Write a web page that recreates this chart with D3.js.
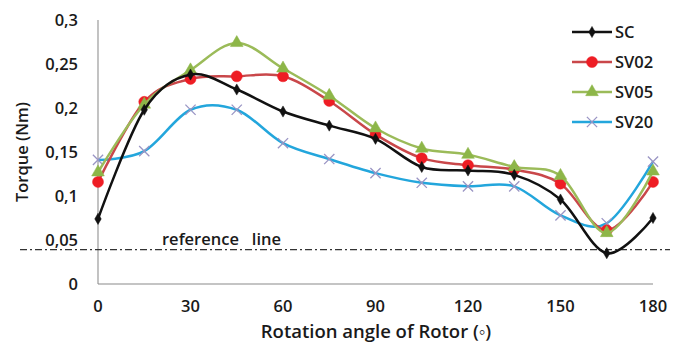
<!DOCTYPE html>
<html>
<head>
<meta charset="utf-8">
<script src="https://cdn.jsdelivr.net/npm/d3@7"></script>
<style>
  body { margin: 0; background: #fff; }
  svg text { font-family: "Open Sans", sans-serif; font-weight: 600; fill: #1a1a1a; }
</style>
</head>
<body>
<div id="chart-area"></div>
<script>
// rotation angles (deg)
let angles = [0, 15, 30, 45, 60, 75, 90, 105, 120, 135, 150, 165, 180];

let scVals   = [0.074, 0.198, 0.238, 0.221, 0.196, 0.180, 0.165, 0.133, 0.129, 0.124, 0.096, 0.035, 0.075];
let sv02Vals = [0.116, 0.207, 0.233, 0.236, 0.236, 0.208, 0.170, 0.143, 0.135, 0.130, 0.114, 0.061, 0.116];
let sv05Vals = [0.127, 0.204, 0.243, 0.274, 0.245, 0.214, 0.177, 0.154, 0.147, 0.133, 0.123, 0.058, 0.128];
let sv20Vals = [0.141, 0.151, 0.198, 0.198, 0.160, 0.142, 0.126, 0.115, 0.111, 0.111, 0.078, 0.069, 0.139];

let seriesNames = ["SC", "SV02", "SV05", "SV20"];
let xTicks = [0, 30, 60, 90, 120, 150, 180];
let yTicks = [0, 0.05, 0.1, 0.15, 0.2, 0.25, 0.3];
let refValue = 0.039;
let refLabel = "reference\u00a0\u00a0\u00a0line";

const width = 682, height = 343;
const svg = d3.select('#chart-area').append('svg').attr('width', width).attr('height', height);

const x = d3.scaleLinear().domain([0, 180]).range([98, 653]);
const y = d3.scaleLinear().domain([0, 0.3]).range([284, 20]);

let styles = {
  "SC":   {line: "#111111", mark: "#111111", symbol: d3.symbolDiamond, size: 36},
  "SV02": {line: "#c9474a", mark: "#ee1d24", symbol: d3.symbolCircle, size: 95},
  "SV05": {line: "#9bbb59", mark: "#8db648", symbol: d3.symbolTriangle, size: 70},
  "SV20": {line: "#23a6dc", mark: "#9a95c4", symbol: d3.symbolX, size: 70}
};

let allVals = {"SC": scVals, "SV02": sv02Vals, "SV05": sv05Vals, "SV20": sv20Vals};

// axes lines
svg.append('line').attr('x1', x(0)).attr('x2', x(0)).attr('y1', y(0.3)).attr('y2', y(0))
  .attr('stroke', '#9a9a9a').attr('stroke-width', 1.2);
svg.append('line').attr('x1', x(0)).attr('x2', x(180)).attr('y1', y(0)).attr('y2', y(0))
  .attr('stroke', '#8a8a8a').attr('stroke-width', 1.2);

// tick labels
svg.selectAll('.ytick').data(yTicks).enter().append('text')
  .attr('x', 78).attr('y', d => y(d)).attr('dy', '0.35em')
  .attr('text-anchor', 'end').attr('font-size', 16.5)
  .text(d => d3.format('.2~f')(d).replace('.', ','));
svg.selectAll('.xtick').data(xTicks).enter().append('text')
  .attr('x', d => x(d)).attr('y', 312)
  .attr('text-anchor', 'middle').attr('font-size', 16.5)
  .text(d => d);

// axis titles
svg.append('text').attr('transform', 'translate(28,152) rotate(-90)')
  .attr('text-anchor', 'middle').attr('font-size', 16.5).text('Torque (Nm)');
svg.append('text').attr('x', 376).attr('y', 338)
  .attr('text-anchor', 'middle').attr('font-size', 18.5).text('Rotation angle of Rotor (\u25e6)');

// reference line
svg.append('line').attr('x1', 20).attr('x2', 670).attr('y1', y(refValue)).attr('y2', y(refValue))
  .attr('stroke', '#333').attr('stroke-width', 1.2).attr('stroke-dasharray', '7,3,2,3');
svg.append('text').attr('x', 162).attr('y', 245).attr('font-size', 16.5).text(refLabel);

// series
let line = d3.line().x((d, i) => x(angles[i])).y(d => y(d)).curve(d3.curveCatmullRom.alpha(0));
let drawOrder = ["SV20", "SV02", "SV05", "SC"];
drawOrder.forEach(name => {
  let st = styles[name];
  let vals = allVals[name];
  svg.append('path').datum(vals).attr('d', line)
    .attr('fill', 'none').attr('stroke', st.line).attr('stroke-width', 2.5);
  svg.selectAll('.m' + name).data(vals).enter().append('path')
    .attr('transform', (d, i) => `translate(${x(angles[i])},${y(d)})`)
    .attr('d', d3.symbol().type(st.symbol).size(st.size))
    .attr('fill', name === "SV20" ? 'none' : st.mark)
    .attr('stroke', st.mark).attr('stroke-width', name === "SV20" ? 1.3 : 0.5);
});

// legend
seriesNames.forEach((name, i) => {
  let st = styles[name];
  let ly = 32 + i * 30;
  let g = svg.append('g');
  g.append('line').attr('x1', 572).attr('x2', 612).attr('y1', ly).attr('y2', ly)
    .attr('stroke', st.line).attr('stroke-width', 2.5);
  g.append('path').attr('transform', `translate(592,${ly})`)
    .attr('d', d3.symbol().type(st.symbol).size(st.size))
    .attr('fill', name === "SV20" ? 'none' : st.mark)
    .attr('stroke', st.mark).attr('stroke-width', name === "SV20" ? 1.3 : 0.5);
  g.append('text').attr('x', 615).attr('y', ly).attr('dy', '0.35em')
    .attr('font-size', 16.5).text(name);
});
</script>
</body>
</html>
